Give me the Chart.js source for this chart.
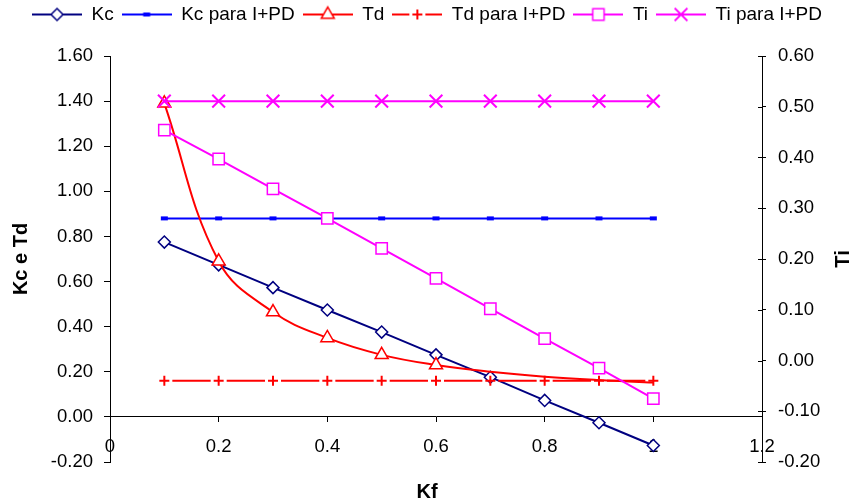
<!DOCTYPE html>
<html>
<head>
<meta charset="utf-8">
<script src="https://cdn.jsdelivr.net/npm/chart.js@4/dist/chart.umd.min.js"></script>
<style>
  html, body { margin: 0; padding: 0; background: #fff; }
  canvas { display: block; }
</style>
</head>
<body>
<canvas id="chart" width="854" height="502"></canvas>
<script>
// Filter constant Kf on the horizontal axis
const kf = [0.1, 0.2, 0.3, 0.4, 0.5, 0.6, 0.7, 0.8, 0.9, 1.0];

// Left axis series (Kc e Td)
const kc      = [0.775, 0.674, 0.573, 0.474, 0.376, 0.275, 0.176, 0.073, -0.026, -0.127];
const kcIPD   = [0.88, 0.88, 0.88, 0.88, 0.88, 0.88, 0.88, 0.88, 0.88, 0.88];
const td      = [1.39, 0.69, 0.465, 0.35, 0.275, 0.23, 0.20, 0.178, 0.163, 0.152];
const tdIPD   = [0.16, 0.16, 0.16, 0.16, 0.16, 0.16, 0.16, 0.16, 0.16, 0.16];

// Right axis series (Ti)
const ti      = [0.454, 0.397, 0.338, 0.280, 0.221, 0.162, 0.102, 0.043, -0.015, -0.075];
const tiIPD   = [0.511, 0.511, 0.511, 0.511, 0.511, 0.511, 0.511, 0.511, 0.511, 0.511];

const seriesNames = ['Kc', 'Kc para I+PD', 'Td', 'Td para I+PD', 'Ti', 'Ti para I+PD'];

// Axis ranges and steps: [min, max, step]
const kfRange  = [0, 1.2, 0.2];
const leftRange  = [-0.2, 1.6, 0.2];
const rightRange = [-0.2, 0.6, 0.1];

const NAVY = '#000080', BLUE = '#0000FF', RED = '#FF0000', MAGENTA = '#FF00FF';
const FONT = "'Liberation Sans', Arial, Helvetica, sans-serif";

Chart.defaults.font.family = FONT;
Chart.defaults.color = '#000';

const toPoints = ys => kf.map((x, i) => ({ x, y: ys[i] }));

// Marker / line style of each series
const styles = [
  { color: NAVY,    point: 'rectRot',  r: 6,   pbw: 1.5, fill: '#fff' },
  { color: BLUE,    point: 'line',     r: 3.5, pbw: 4,   fill: BLUE },
  { color: RED,     point: 'triangle', r: 7.5, pbw: 1.5, fill: '#fff' },
  { color: RED,     point: 'cross',    r: 5,   pbw: 2,   fill: RED, dash: [17, 16] },
  { color: MAGENTA, point: 'rect',     r: 8,   pbw: 1.5, fill: '#fff' },
  { color: MAGENTA, point: 'crossRot', r: 9,   pbw: 2,   fill: MAGENTA }
];

// Legend swatch: a short line with the series marker in its middle
function legendIcon(s) {
  const c = document.createElement('canvas');
  c.width = 50; c.height = 20;
  const g = c.getContext('2d');
  g.strokeStyle = s.color;
  g.lineWidth = 2;
  if (s.dash) g.setLineDash(s.dash);
  g.beginPath(); g.moveTo(0, 10); g.lineTo(50, 10); g.stroke();
  g.setLineDash([]);
  g.fillStyle = s.fill;
  g.strokeStyle = s.color;
  g.lineWidth = s.pbw;
  Chart.helpers.drawPoint(g, { pointStyle: s.point, radius: s.r, rotation: 0, borderWidth: s.pbw }, 25, 10);
  return c;
}
const icons = styles.map(legendIcon);

function dataset(i, values, axis, extra) {
  const s = styles[i];
  return Object.assign({
    label: seriesNames[i],
    data: toPoints(values),
    yAxisID: axis,
    borderColor: s.color,
    backgroundColor: s.fill,
    borderWidth: 2,
    pointStyle: s.point,
    pointRadius: s.r,
    pointBorderWidth: s.pbw,
    pointBorderColor: s.color,
    pointBackgroundColor: s.fill,
    fill: false,
    tension: 0,
    order: 6 - i
  }, extra || {});
}

// Dash of the Td para I+PD line: gaps centred on every marker
function markerGapDash(ctx) {
  const x = ctx.chart.scales.x;
  if (!x) return [];
  const step = x.getPixelForValue(kf[1]) - x.getPixelForValue(kf[0]);
  return [step - 16, 16];
}
function markerGapOffset(ctx) {
  const x = ctx.chart.scales.x;
  if (!x) return 0;
  const step = x.getPixelForValue(kf[1]) - x.getPixelForValue(kf[0]);
  return step - 8;
}

const datasets = [
  dataset(0, kc, 'y'),
  dataset(1, kcIPD, 'y'),
  dataset(2, td, 'y', {
    tension: 0.4,
    pointRadius: c => (c.dataIndex < 6 ? styles[2].r : 0)
  }),
  dataset(3, tdIPD, 'y', { borderDash: markerGapDash, borderDashOffset: markerGapOffset }),
  dataset(4, ti, 'y2'),
  dataset(5, tiIPD, 'y2')
];

const fmt2 = v => (Math.abs(v) < 1e-9 ? 0 : v).toFixed(2);

// Legend box height fixed so the plot area starts just under it
const legendHeight = {
  id: 'legendHeight',
  beforeInit(chart) {
    const fit = chart.legend.fit;
    chart.legend.fit = function () {
      fit.call(this);
      this.height = 59;
    };
  }
};

// Right axis: tick marks cross the axis line; vertical "Ti" title
const rightAxisDecor = {
  id: 'rightAxisDecor',
  afterDraw(chart) {
    const s = chart.scales.y2;
    const ctx = chart.ctx;
    ctx.save();
    ctx.strokeStyle = '#000';
    ctx.lineWidth = 1;
    ctx.beginPath();
    s.ticks.forEach(t => {
      const y = Math.round(s.getPixelForValue(t.value)) + 0.5;
      ctx.moveTo(s.left - 4, y);
      ctx.lineTo(s.left, y);
    });
    ctx.stroke();
    ctx.translate(843, (chart.chartArea.top + chart.chartArea.bottom) / 2);
    ctx.rotate(-Math.PI / 2);
    ctx.font = 'bold 20px ' + FONT;
    ctx.fillStyle = '#000';
    ctx.textAlign = 'center';
    ctx.textBaseline = 'middle';
    ctx.fillText('Ti', 0, 0);
    ctx.restore();
  }
};

new Chart(document.getElementById('chart'), {
  type: 'line',
  data: { datasets },
  plugins: [legendHeight, rightAxisDecor],
  options: {
    responsive: false,
    animation: false,
    events: [],
    devicePixelRatio: 1,
    layout: { padding: { top: -3, left: 0, right: 0, bottom: 0 } },
    scales: {
      x: {
        type: 'linear',
        position: { y: 0 },
        min: kfRange[0], max: kfRange[1],
        ticks: {
          stepSize: kfRange[2],
          callback: v => String(+v.toFixed(1)),
          font: { size: 18.5 },
          color: '#000',
          padding: 14,
          maxRotation: 0,
          autoSkip: false
        },
        grid: { drawOnChartArea: false, drawTicks: true, tickLength: 5, color: '#000' },
        border: { display: true, color: '#000', width: 1 }
      },
      y: {
        position: 'left',
        min: leftRange[0], max: leftRange[1],
        ticks: { stepSize: leftRange[2], callback: fmt2, font: { size: 18.5 }, color: '#000', padding: 11 },
        grid: { drawOnChartArea: false, drawTicks: true, tickLength: 6, color: '#000' },
        border: { display: true, color: '#000', width: 1 },
        title: {
          display: true, text: 'Kc e Td', color: '#000',
          font: { size: 20, weight: 'bold' },
          padding: { top: 9, bottom: 0 }
        },
        afterFit(s) { s.width = 110; }
      },
      y2: {
        position: 'right',
        min: rightRange[0], max: rightRange[1],
        ticks: { stepSize: rightRange[2], callback: fmt2, font: { size: 18.5 }, color: '#000', padding: 12 },
        grid: { drawOnChartArea: false, drawTicks: true, tickLength: 4, color: '#000' },
        border: { display: true, color: '#000', width: 1 },
        afterFit(s) { s.width = 92; }
      }
    },
    plugins: {
      legend: {
        position: 'top',
        labels: {
          usePointStyle: true,
          pointStyleWidth: 50,
          padding: 8,
          color: '#000',
          font: { size: 19 },
          generateLabels: chart => chart.data.datasets.map((ds, i) => ({
            text: ds.label,
            pointStyle: icons[i],
            datasetIndex: i,
            hidden: false,
            lineWidth: 0,
            strokeStyle: 'rgba(0,0,0,0)',
            fillStyle: 'rgba(0,0,0,0)',
            fontColor: '#000'
          }))
        }
      },
      title: {
        display: true,
        position: 'bottom',
        text: 'Kf',
        color: '#000',
        font: { size: 20, weight: 'bold', lineHeight: 1 },
        padding: { top: 20, bottom: 0 }
      },
      tooltip: { enabled: false }
    }
  }
});
</script>
</body>
</html>
